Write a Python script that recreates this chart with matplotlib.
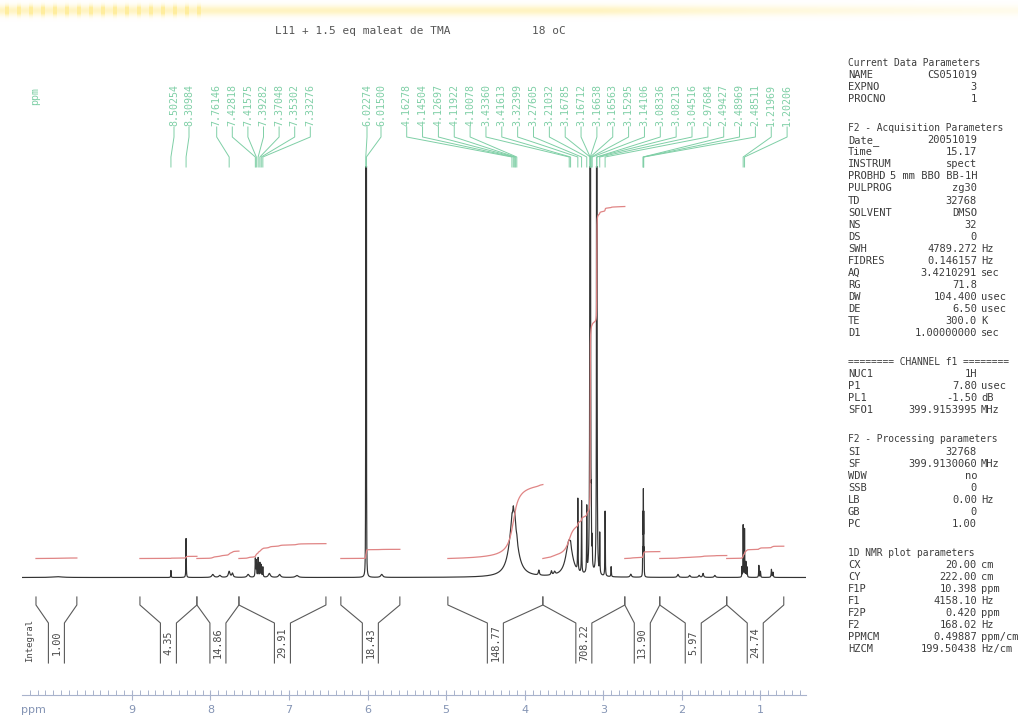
import numpy as np
import matplotlib
matplotlib.use("Agg")
import matplotlib.pyplot as plt

W, H, DPI = 1018, 718, 100

# plotted shift window (ppm)
F1P, F2P = 10.398, 0.420

title_text = "L11 + 1.5 eq maleat de TMA"
temp_text = "18 oC"

# Resonances that build the trace: shift (ppm), height (baseline units), width at half height (ppm)
peak_ppm = [9.95, 8.50254, 8.30984, 7.97, 7.88, 7.76146, 7.72, 7.52,
            7.42818, 7.41575, 7.39282, 7.37048, 7.35302, 7.33276,
            7.25, 7.12, 6.90, 6.02274, 6.01500, 5.82,
            4.145, 4.16278, 4.14504, 4.12697, 4.11922, 4.10078,
            3.82, 3.66, 3.62, 3.4336, 3.41613,
            3.32399, 3.27605, 3.21032, 3.16785, 3.16712, 3.16638, 3.16563,
            3.15295, 3.14106, 3.08336, 3.08213, 3.04516, 2.97684, 2.90,
            2.65, 2.49885, 2.49427, 2.48969, 2.48511, 2.48053,
            2.05, 1.90, 1.78, 1.73, 1.58,
            1.235, 1.21969, 1.20206, 1.185, 1.17, 1.02, 1.00, 0.86, 0.84]
peak_height = [0.8, 7, 39, 3, 2, 6, 4, 3,
               18, 16, 19, 14, 12, 10,
               4, 3, 2, 900, 880, 3,
               66, 4, 5, 4, 4, 3,
               5, 4, 3, 37, 3,
               72, 72, 65, 2000, 2800, 2900, 2200,
               40, 25, 2800, 2900, 40, 65, 10,
               3, 22, 55, 77, 55, 22,
               3, 2, 2, 4, 2,
               10, 52, 48, 15, 10, 12, 6, 8, 5]
peak_fwhm = [0.15, 0.005, 0.005, 0.03, 0.03, 0.025, 0.02, 0.03,
             0.007, 0.007, 0.007, 0.007, 0.007, 0.007,
             0.03, 0.03, 0.04, 0.002, 0.002, 0.03,
             0.11, 0.008, 0.008, 0.008, 0.008, 0.008,
             0.015, 0.015, 0.02, 0.10, 0.008,
             0.005, 0.005, 0.005, 0.002, 0.002, 0.002, 0.002,
             0.004, 0.004, 0.002, 0.002, 0.005, 0.005, 0.006,
             0.02, 0.003, 0.003, 0.003, 0.003, 0.003,
             0.02, 0.02, 0.02, 0.015, 0.02,
             0.004, 0.004, 0.004, 0.005, 0.006, 0.006, 0.006, 0.008, 0.008]

# picked shifts printed above the trace
label_ppm = [8.50254, 8.30984,
             7.76146, 7.42818, 7.41575, 7.39282, 7.37048, 7.35302, 7.33276,
             6.02274, 6.01500,
             4.16278, 4.14504, 4.12697, 4.11922, 4.10078, 3.43360, 3.41613,
             3.32399, 3.27605, 3.21032, 3.16785, 3.16712, 3.16638, 3.16563,
             3.15295, 3.14106, 3.08336, 3.08213, 3.04516, 2.97684,
             2.49427, 2.48969, 2.48511, 1.21969, 1.20206]

# integration regions (ppm) and their values
int_left = [10.22, 8.897, 8.172, 7.637, 6.340, 4.978, 3.769, 2.726, 2.281, 1.429]
int_right = [9.70, 8.172, 7.637, 6.530, 5.589, 3.769, 2.726, 2.281, 1.429, 0.703]
int_value = [1.00, 4.35, 14.86, 29.91, 18.43, 148.77, 708.22, 13.90, 5.97, 24.74]

axis_major = [1, 2, 3, 4, 5, 6, 7, 8, 9]

param_blocks = [
    ("Current Data Parameters",
     [("NAME", "CS051019", ""), ("EXPNO", "3", ""), ("PROCNO", "1", "")]),
    ("F2 - Acquisition Parameters",
     [("Date_", "20051019", ""), ("Time", "15.17", ""), ("INSTRUM", "spect", ""),
      ("PROBHD", "5 mm BBO BB-1H", ""), ("PULPROG", "zg30", ""), ("TD", "32768", ""),
      ("SOLVENT", "DMSO", ""), ("NS", "32", ""), ("DS", "0", ""),
      ("SWH", "4789.272", "Hz"), ("FIDRES", "0.146157", "Hz"),
      ("AQ", "3.4210291", "sec"), ("RG", "71.8", ""), ("DW", "104.400", "usec"),
      ("DE", "6.50", "usec"), ("TE", "300.0", "K"), ("D1", "1.00000000", "sec")]),
    ("======== CHANNEL f1 ========",
     [("NUC1", "1H", ""), ("P1", "7.80", "usec"), ("PL1", "-1.50", "dB"),
      ("SFO1", "399.9153995", "MHz")]),
    ("F2 - Processing parameters",
     [("SI", "32768", ""), ("SF", "399.9130060", "MHz"), ("WDW", "no", ""),
      ("SSB", "0", ""), ("LB", "0.00", "Hz"), ("GB", "0", ""), ("PC", "1.00", "")]),
    ("1D NMR plot parameters",
     [("CX", "20.00", "cm"), ("CY", "222.00", "cm"), ("F1P", "10.398", "ppm"),
      ("F1", "4158.10", "Hz"), ("F2P", "0.420", "ppm"), ("F2", "168.02", "Hz"),
      ("PPMCM", "0.49887", "ppm/cm"), ("HZCM", "199.50438", "Hz/cm")]),
]

# ---------------------------------------------------------------- layout
X0, X1 = 22.0, 806.0                 # horizontal extent of the ppm scale (px)
PX_PER_PPM = (X1 - X0) / (F1P - F2P)


def px2ppm(x):
    return F1P - (x - X0) / PX_PER_PPM


def add_axes_px(fig, x0, y0, x1, y1):
    return fig.add_axes([x0 / W, 1 - y1 / H, (x1 - x0) / W, (y1 - y0) / H])


MONO = "DejaVu Sans Mono"
C_TRACE = "#333333"
C_INT = "#e08585"
C_LAB = "#7fcfa6"
C_BRK = "#5a5a5a"
C_AX = "#a9b3cc"
C_AXT = "#8494b4"
C_TXT = "#3c3c3c"

fig = plt.figure(figsize=(W / DPI, H / DPI), dpi=DPI)
fig.patch.set_facecolor("white")

# pale scanner band along the top edge
band_ax = fig.add_axes([0, 1 - 24 / H, 1, 24 / H], zorder=-5)
yy = np.arange(24)[:, None]
xx = np.arange(W)[None, :]
vert = np.exp(-((yy - 10) / 5.0) ** 2)
horiz = np.where(xx < 600, 0.45, 0.45 * np.exp(-(xx - 600) / 260.0)) + 0.08
stripes = 1 + 1.2 * ((xx >= 5) & (xx <= 200) & (((xx - 5) % 12) < 4))
band = np.zeros((24, W, 4))
band[..., 0] = 1.0
band[..., 1] = 0.92
band[..., 2] = 0.55
band[..., 3] = np.clip(vert * horiz * stripes, 0, 0.85)
band_ax.imshow(band, aspect="auto", interpolation="bilinear")
band_ax.axis("off")

# ---------------------------------------------------------------- spectrum
BASE_TOP, BASE_Y, BASE_BOT = 166.0, 577.5, 590.0
ax = add_axes_px(fig, X0, BASE_TOP, X1, BASE_BOT)
ppm = np.linspace(F1P, F2P, 60000)
spec = np.zeros_like(ppm)
for p, h, w in zip(peak_ppm, peak_height, peak_fwhm):
    g = w / 2.0
    spec += h / (1.0 + ((ppm - p) / g) ** 2)
ax.plot(ppm, spec, color=C_TRACE, lw=0.85)

# running integrals drawn over each region
INT_BASE = 19.0
INT_SCALE = 0.497
for a, b, v in zip(int_left, int_right, int_value):
    m = (ppm <= a) & (ppm >= b)
    cum = np.cumsum(spec[m])
    cum = cum / cum[-1]
    ax.plot(ppm[m], INT_BASE + INT_SCALE * v * cum, color=C_INT, lw=0.9)

ax.set_xlim(F1P, F2P)
ax.set_ylim(BASE_Y - BASE_BOT, BASE_Y - BASE_TOP)
ax.axis("off")

# ---------------------------------------------------------------- peak labels
lab_ax = add_axes_px(fig, X0, 70, X1, 170)
lab_ax.set_xlim(F1P, F2P)
lab_ax.set_ylim(170, 70)
lab_ax.axis("off")

label_slots = []
for count, start, step in [(2, 174.0, 15.0), (7, 216.7, 15.6),
                           (2, 367.0, 14.0), (25, 406.7, 15.85)]:
    label_slots += [px2ppm(start + i * step) for i in range(count)]

for lx, p in zip(label_slots, label_ppm):
    lab_ax.plot([lx, lx, p, p], [127, 137, 157, 167], color=C_LAB, lw=0.7)
    lab_ax.text(lx, 105, f"{p:.5f}", rotation=90, ha="center", va="center",
                fontsize=7.2, family=MONO, color=C_LAB)

fig.text(35 / W, 1 - 96 / H, "ppm", rotation=90, ha="center", va="center",
         fontsize=7.2, family=MONO, color=C_LAB)

# ---------------------------------------------------------------- integral brackets
brk = add_axes_px(fig, X0, 590, X1, 670)
brk.set_xlim(F1P, F2P)
brk.set_ylim(670, 590)
brk.axis("off")
hw = 8.0 / PX_PER_PPM
for a, b, v in zip(int_left, int_right, int_value):
    mid = 0.5 * (a + b)
    brk.plot([a, a, mid + hw, mid + hw], [597, 605, 623, 663], color=C_BRK, lw=0.8)
    brk.plot([b, b, mid - hw, mid - hw], [597, 605, 623, 663], color=C_BRK, lw=0.8)
    brk.text(mid, 643, f"{v:.2f}", rotation=90, ha="center", va="center",
             fontsize=7.4, family=MONO, color="#4a4a4a")

fig.text(30 / W, 1 - 640 / H, "Integral", rotation=90, ha="center", va="center",
         fontsize=6.5, family=MONO, color="#4a4a4a")

# ---------------------------------------------------------------- ppm scale
sc = add_axes_px(fig, X0, 685, X1, 695)
sc.set_xlim(F1P, F2P)
sc.set_ylim(0, 1)
for s in ["top", "left", "right"]:
    sc.spines[s].set_visible(False)
sc.spines["bottom"].set_color(C_AX)
sc.spines["bottom"].set_linewidth(0.8)
sc.set_yticks([])
sc.set_xticks(axis_major)
sc.set_xticklabels([str(t) for t in axis_major])
sc.set_xticks(np.round(np.arange(0.5, 10.35, 0.1), 1), minor=True)
sc.tick_params(axis="x", which="major", direction="inout", length=7, width=0.8,
               color=C_AX, labelcolor=C_AXT, labelsize=8, pad=4)
sc.tick_params(axis="x", which="minor", direction="in", length=3.5, width=0.7,
               color=C_AX)
sc.patch.set_alpha(0)
fig.text(21 / W, 1 - 710 / H, "ppm", ha="left", va="center",
         fontsize=8, color=C_AXT)

# ---------------------------------------------------------------- titles
fig.text(275 / W, 1 - 31 / H, title_text, ha="left", va="center",
         fontsize=8, family=MONO, color="#555555")
fig.text(532 / W, 1 - 31 / H, temp_text, ha="left", va="center",
         fontsize=8, family=MONO, color="#555555")

# ---------------------------------------------------------------- parameter panel
y = 63.0
LINE, GAP = 12.06, 29.0
for bi, (head, rows) in enumerate(param_blocks):
    if bi > 0:
        y += GAP - LINE
    fig.text(848 / W, 1 - y / H, head, ha="left", va="center",
             fontsize=6.9, family=MONO, color=C_TXT)
    for name, val, unit in rows:
        y += LINE
        fig.text(848 / W, 1 - y / H, name, ha="left", va="center",
                 fontsize=7.5, family=MONO, color=C_TXT)
        fig.text(977 / W, 1 - y / H, val, ha="right", va="center",
                 fontsize=7.5, family=MONO, color=C_TXT)
        if unit:
            fig.text(981 / W, 1 - y / H, unit, ha="left", va="center",
                     fontsize=7.5, family=MONO, color=C_TXT)
    y += LINE

fig.savefig("out.png", dpi=DPI)
